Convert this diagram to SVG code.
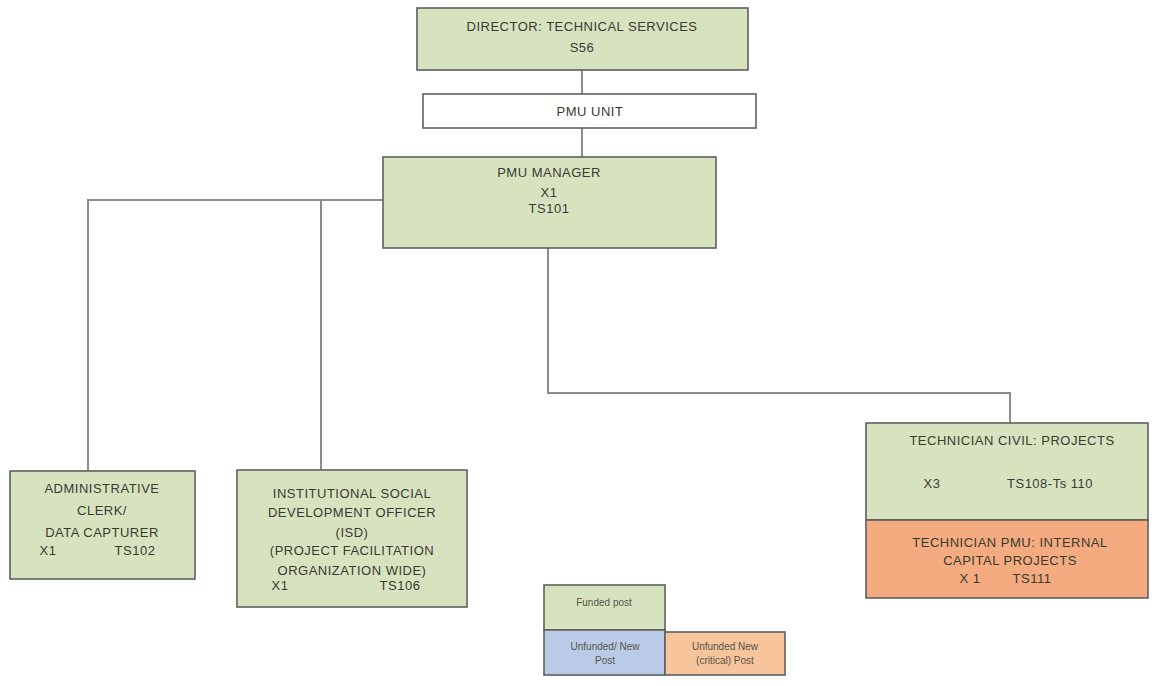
<svg xmlns="http://www.w3.org/2000/svg" width="1154" height="686" viewBox="0 0 1154 686">
  <style>
    .box { stroke: #5f5f5f; stroke-width: 1.6; }
    .funded { fill: #d7e3bf; }
    .unit { fill: #ffffff; }
    .critical { fill: #f3ab7f; }
    .critical-key { fill: #f8c49b; }
    .newpost { fill: #b9cbe6; }
    .wire { fill: none; stroke: #8c8c8c; stroke-width: 2; }
    text { font-family: "Liberation Sans", Arial, sans-serif; font-size: 13px; letter-spacing: 0.5px; fill: #3a3a32; text-anchor: middle; }
    .key { font-size: 10px; letter-spacing: 0; fill: #55554d; }
  </style>

  <!-- reporting lines -->
  <g id="connectors">
    <line class="wire" x1="582" y1="70" x2="582" y2="94"/>
    <line class="wire" x1="582" y1="128" x2="582" y2="157"/>
    <polyline class="wire" points="383,200 88,200 88,471"/>
    <line class="wire" x1="321" y1="200" x2="321" y2="470"/>
    <polyline class="wire" points="548,248 548,393 1010,393 1010,423"/>
  </g>

  <g id="director">
    <rect class="box funded" x="417" y="8" width="331" height="62"/>
    <text x="582" y="31">DIRECTOR: TECHNICAL SERVICES</text>
    <text x="582" y="52">S56</text>
  </g>

  <g id="pmu-unit">
    <rect class="box unit" x="423" y="94" width="333" height="34"/>
    <text x="590" y="116">PMU UNIT</text>
  </g>

  <g id="pmu-manager">
    <rect class="box funded" x="383" y="157" width="333" height="91"/>
    <text x="549" y="177">PMU MANAGER</text>
    <text x="549" y="197">X1</text>
    <text x="549" y="213">TS101</text>
  </g>

  <g id="admin-clerk">
    <rect class="box funded" x="10" y="471" width="185" height="108"/>
    <text x="102" y="493">ADMINISTRATIVE</text>
    <text x="102" y="515">CLERK/</text>
    <text x="102" y="537">DATA CAPTURER</text>
    <text x="48" y="555">X1</text>
    <text x="135" y="555">TS102</text>
  </g>

  <g id="isd-officer">
    <rect class="box funded" x="237" y="470" width="230" height="137"/>
    <text x="352" y="498">INSTITUTIONAL SOCIAL</text>
    <text x="352" y="517">DEVELOPMENT OFFICER</text>
    <text x="352" y="537">(ISD)</text>
    <text x="352" y="555">(PROJECT FACILITATION</text>
    <text x="352" y="575">ORGANIZATION WIDE)</text>
    <text x="280" y="590">X1</text>
    <text x="400" y="590">TS106</text>
  </g>

  <g id="technician-civil">
    <rect class="box funded" x="866" y="423" width="282" height="97"/>
    <text x="1012" y="445">TECHNICIAN CIVIL: PROJECTS</text>
    <text x="932" y="488">X3</text>
    <text x="1050" y="488">TS108-Ts 110</text>
  </g>

  <g id="technician-pmu">
    <rect class="box critical" x="866" y="520" width="282" height="78"/>
    <text x="1010" y="547">TECHNICIAN PMU: INTERNAL</text>
    <text x="1010" y="565">CAPITAL PROJECTS</text>
    <text x="970" y="583">X 1</text>
    <text x="1032" y="583">TS111</text>
  </g>

  <g id="legend">
    <rect class="box funded" x="544" y="585" width="121" height="45"/>
    <text class="key" x="604" y="606">Funded post</text>
    <rect class="box newpost" x="544" y="630" width="121" height="45"/>
    <text class="key" x="605" y="650">Unfunded/ New</text>
    <text class="key" x="605" y="664">Post</text>
    <rect class="box critical-key" x="665" y="632" width="120" height="43"/>
    <text class="key" x="725" y="650">Unfunded New</text>
    <text class="key" x="725" y="664">(critical) Post</text>
  </g>
</svg>
